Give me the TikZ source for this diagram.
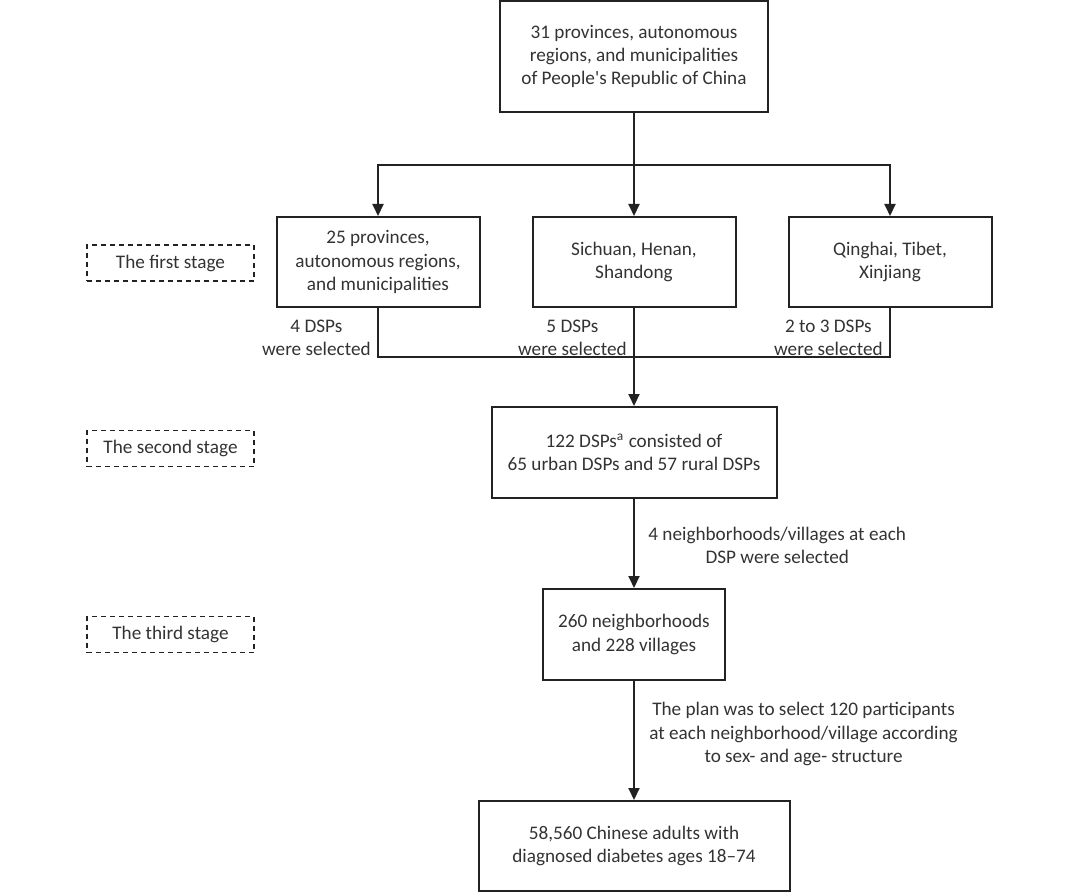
\documentclass[tikz,border=0pt]{standalone}
\usepackage{fontspec}
\newfontfamily\calib{Carlito}
\usetikzlibrary{arrows.meta}
\definecolor{txt}{HTML}{333333}
\definecolor{ln}{HTML}{222222}
\begin{document}
\begin{tikzpicture}[x=0.5pt,y=-0.5pt,
  font=\calib\fontsize{9.6}{11.6}\selectfont,
  box/.style={draw=ln,line width=1pt,text=txt,align=center,inner sep=0pt,minimum width=#1},
  stagebox/.style={draw=ln,line width=0.8pt,dash pattern=on 2.5pt off 2pt,text=txt,minimum width=83.5pt,minimum height=18pt,inner sep=0pt},
  lbl/.style={text=txt,align=center,inner sep=0pt},
  conn/.style={draw=ln,line width=1pt},
  arr/.style={conn,-{Triangle[length=6pt,width=5.5pt]}}]
\useasboundingbox (0,0) rectangle (1080,893);
% main boxes
\node[box=134pt,minimum height=55.5pt] (top) at (634,56.5) {31 provinces, autonomous\\regions, and municipalities\\of People's Republic of China};
\node[box=101.5pt,minimum height=45pt] (b1) at (378,262) {25 provinces,\\autonomous regions,\\and municipalities};
\node[box=101.5pt,minimum height=45pt] (b2) at (634,262) {Sichuan, Henan,\\Shandong};
\node[box=101.5pt,minimum height=45pt] (b3) at (890,262) {Qinghai, Tibet,\\Xinjiang};
\node[box=142.5pt,minimum height=45.5pt] (s2) at (634,452.5) {122 DSPs\textsuperscript{a} consisted of\\65 urban DSPs and 57 rural DSPs};
\node[box=91pt,minimum height=45.5pt] (s3) at (634,634.5) {260 neighborhoods\\and 228 villages};
\node[box=155.5pt,minimum height=45pt] (s4) at (634,846) {58,560 Chinese adults with\\diagnosed diabetes ages 18–74};
% stage labels
\node[stagebox] (st1) at (170.5,263) {The first stage};
\node[stagebox] (st2) at (170.5,448.5) {The second stage};
\node[stagebox] (st3) at (170.5,634.5) {The third stage};
% connectors
\coordinate (split) at (634,165);
\coordinate (merge) at (634,357);
\draw[conn] (top.south) -- (split);
\draw[arr] (split) -| (b1.north);
\draw[arr] (split) -| (b3.north);
\draw[arr] (split) -- (b2.north);
\draw[conn] (b1.south) |- (merge);
\draw[conn] (b3.south) |- (merge);
\draw[arr] (b2.south) -- (s2.north);
\draw[arr] (s2.south) -- (s3.north);
\draw[arr] (s3.south) -- (s4.north);
% connector labels
\node[lbl,anchor=east] (l1) at (371,338) {4 DSPs\\were selected};
\node[lbl,anchor=east] (l2) at (627,338) {5 DSPs\\were selected};
\node[lbl,anchor=east] (l3) at (883,338) {2 to 3 DSPs\\were selected};
\node[lbl,anchor=west] (l4) at (648,545) {4 neighborhoods/villages at each\\DSP were selected};
\node[lbl,anchor=west] (l5) at (649,734) {The plan was to select 120 participants\\at each neighborhood/village according\\to sex- and age- structure};
\end{tikzpicture}
\end{document}
